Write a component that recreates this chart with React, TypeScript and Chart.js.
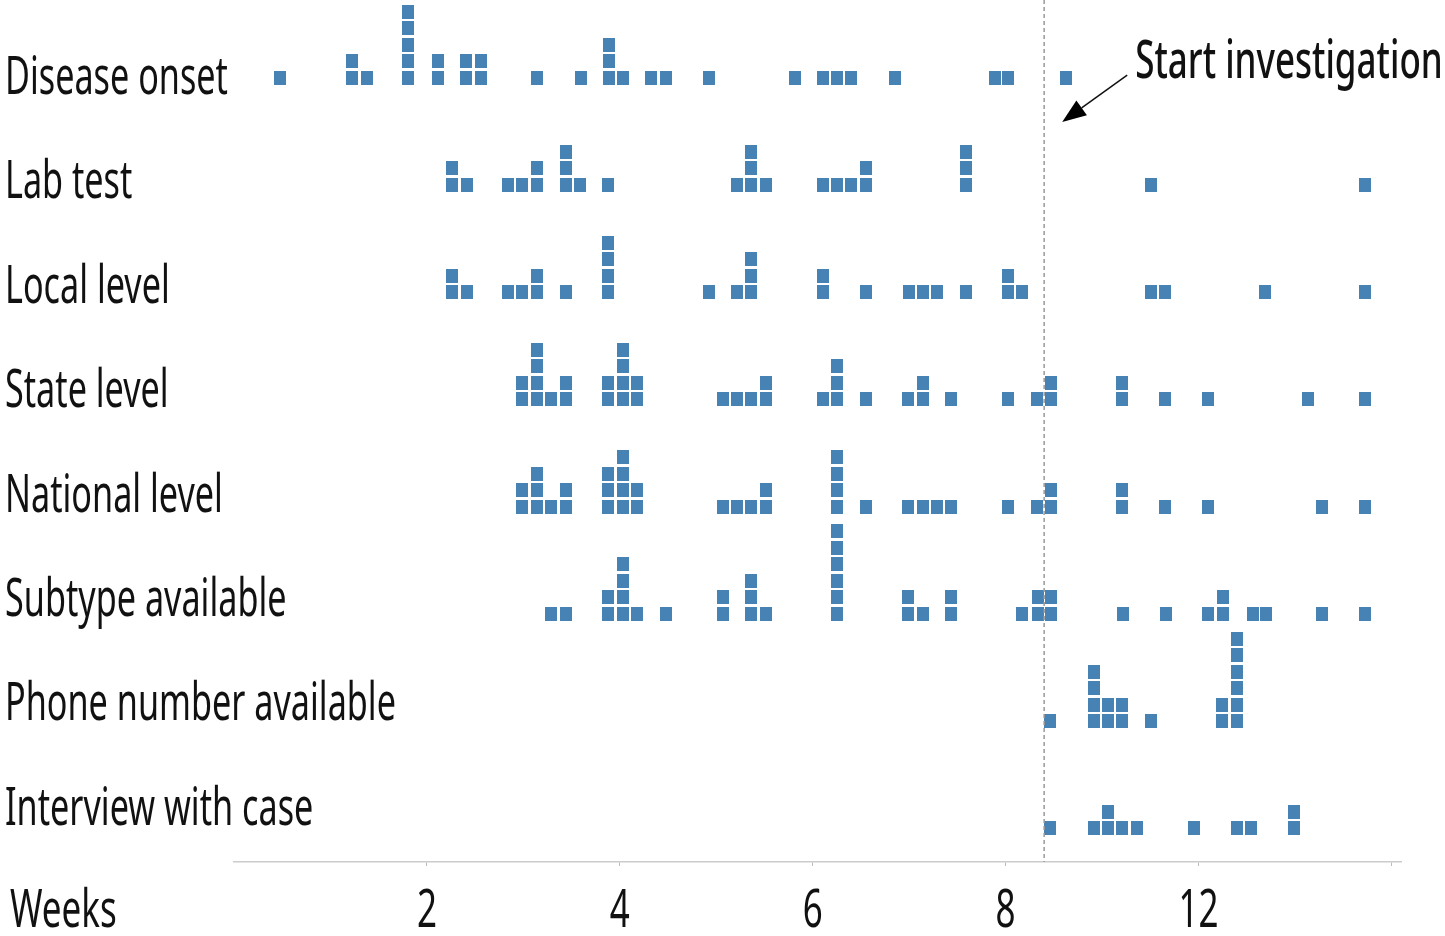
import React, { useEffect, useRef } from "react";
import { Chart, registerables } from "chart.js";

Chart.register(...registerables);

// ---------- data ----------
const rowNames = [
  "Disease onset",
  "Lab test",
  "Local level",
  "State level",
  "National level",
  "Subtype available",
  "Phone number available",
  "Interview with case",
];

// column positions (weeks) and number of cases stacked in each column
const diseaseOnsetWeeks = [0.482, 1.221, 1.374, 1.808, 2.112, 2.409, 2.558, 3.143, 3.595, 3.885, 4.036, 4.326, 4.482, 4.923, 5.812, 6.102, 6.249, 6.4, 6.854, 7.89, 8.021, 8.623];
const diseaseOnsetCounts = [1, 2, 1, 5, 2, 2, 2, 1, 1, 3, 1, 1, 1, 1, 1, 1, 1, 1, 1, 1, 1, 1];

const labTestWeeks = [2.256, 2.411, 2.845, 2.99, 3.146, 3.441, 3.592, 3.882, 5.22, 5.358, 5.511, 6.102, 6.25, 6.396, 6.553, 7.586, 9.51, 11.73];
const labTestCounts = [2, 1, 1, 1, 2, 3, 1, 1, 1, 3, 1, 1, 1, 1, 2, 3, 1, 1];

const localLevelWeeks = [2.256, 2.411, 2.845, 2.99, 3.146, 3.444, 3.882, 4.927, 5.22, 5.358, 6.102, 6.553, 7.0, 7.145, 7.29, 7.591, 8.026, 8.172, 9.51, 9.655, 10.692, 11.73];
const localLevelCounts = [2, 1, 1, 1, 2, 1, 4, 1, 1, 3, 2, 1, 1, 1, 1, 1, 2, 1, 1, 1, 1, 1];

const stateLevelWeeks = [2.99, 3.146, 3.288, 3.444, 3.882, 4.033, 4.183, 5.065, 5.213, 5.358, 5.516, 6.107, 6.255, 6.551, 6.992, 7.145, 7.437, 8.021, 8.329, 8.475, 9.209, 9.655, 10.101, 11.139, 11.73];
const stateLevelCounts = [2, 4, 1, 2, 2, 4, 2, 1, 1, 1, 2, 1, 3, 1, 1, 2, 1, 1, 1, 2, 2, 1, 1, 1, 1];

const nationalLevelWeeks = [2.99, 3.146, 3.288, 3.444, 3.882, 4.033, 4.183, 5.065, 5.213, 5.358, 5.516, 6.255, 6.551, 6.992, 7.145, 7.292, 7.437, 8.021, 8.329, 8.475, 9.209, 9.655, 10.101, 11.284, 11.73];
const nationalLevelCounts = [2, 3, 1, 2, 3, 4, 2, 1, 1, 1, 2, 4, 1, 1, 1, 1, 1, 1, 1, 2, 2, 1, 1, 1, 1];

const subtypeWeeks = [3.284, 3.441, 3.882, 4.033, 4.183, 4.479, 5.07, 5.358, 5.516, 6.255, 6.992, 7.145, 7.437, 8.174, 8.332, 8.475, 9.216, 9.66, 10.099, 10.254, 10.565, 10.703, 11.284, 11.73];
const subtypeCounts = [1, 1, 2, 4, 1, 1, 2, 3, 1, 6, 2, 1, 2, 1, 2, 2, 1, 1, 1, 2, 1, 1, 1, 1];

const phoneWeeks = [8.462, 8.919, 9.064, 9.209, 9.51, 10.246, 10.402];
const phoneCounts = [1, 4, 2, 2, 1, 2, 6];

const interviewWeeks = [8.462, 8.919, 9.064, 9.209, 9.365, 9.956, 10.402, 10.547, 10.993];
const interviewCounts = [1, 1, 2, 1, 1, 1, 1, 1, 2];

const rowWeeks = [diseaseOnsetWeeks, labTestWeeks, localLevelWeeks, stateLevelWeeks, nationalLevelWeeks, subtypeWeeks, phoneWeeks, interviewWeeks];
const rowCounts = [diseaseOnsetCounts, labTestCounts, localLevelCounts, stateLevelCounts, nationalLevelCounts, subtypeCounts, phoneCounts, interviewCounts];

const tickValues = [2, 4, 6, 8, 10, 12];
const tickLabels = ["2", "4", "6", "8", "12", ""];
const axisTitle = "Weeks";

const startInvestigationWeek = 8.4;
const annotationText = "Start investigation";

// ---------- layout / style ----------
const ROW_STEP = 6.5; // distance between rows, in stacked-square units
const LABEL_STEP = 6.327;
const LABEL_OFFSET = 0.55;
const SQUARE_COLOR = "#4682b4";
const TEXT_COLOR = "#111111";
const FONT_FAMILY = '"Noto Sans", "Open Sans", sans-serif';
const FONT_SIZE = 53;
const CONDENSE = 0.645;

function makeSquare(): HTMLCanvasElement {
  const c = document.createElement("canvas");
  c.width = 12;
  c.height = 14;
  const g = c.getContext("2d");
  if (g) {
    g.fillStyle = SQUARE_COLOR;
    g.fillRect(0, 0, 12, 14);
  }
  return c;
}

function condensedText(ctx: CanvasRenderingContext2D, text: string, x: number, y: number, sx = CONDENSE) {
  ctx.save();
  ctx.translate(x, y);
  ctx.scale(sx, 1);
  ctx.fillText(text, 0, 0);
  ctx.restore();
}

export default function App() {
  const ref = useRef<HTMLCanvasElement | null>(null);

  useEffect(() => {
    if (!ref.current) return;
    const square = makeSquare();

    const points: { x: number; y: number }[] = [];
    rowWeeks.forEach((weeks, r) => {
      weeks.forEach((w, j) => {
        for (let L = 0; L < rowCounts[r][j]; L++) {
          points.push({ x: w, y: r * ROW_STEP - 0.45 - L });
        }
      });
    });

    const overlay = {
      id: "overlay",
      afterDatasetsDraw(chart: any) {
        const { ctx, chartArea } = chart;
        const xs = chart.scales.x;
        const ys = chart.scales.y;
        ctx.save();
        // dashed line
        const lx = xs.getPixelForValue(startInvestigationWeek);
        ctx.strokeStyle = "#9a9a9a";
        ctx.lineWidth = 1.5;
        ctx.setLineDash([4, 3]);
        ctx.beginPath();
        ctx.moveTo(lx, chartArea.top);
        ctx.lineTo(lx, chartArea.bottom);
        ctx.stroke();
        ctx.setLineDash([]);

        // arrow
        const ax1 = xs.getPixelForValue(9.261);
        const ay1 = ys.getPixelForValue(-0.6);
        const ax2 = xs.getPixelForValue(8.587);
        const ay2 = ys.getPixelForValue(2.24);
        const ang = Math.atan2(ay2 - ay1, ax2 - ax1);
        const headLen = 24;
        const headW = 9;
        const bx = ax2 - headLen * Math.cos(ang);
        const by = ay2 - headLen * Math.sin(ang);
        ctx.strokeStyle = "#111";
        ctx.lineWidth = 1.5;
        ctx.beginPath();
        ctx.moveTo(ax1, ay1);
        ctx.lineTo(bx, by);
        ctx.stroke();
        ctx.fillStyle = "#000";
        ctx.beginPath();
        ctx.moveTo(ax2, ay2);
        ctx.lineTo(bx + headW * Math.sin(ang), by - headW * Math.cos(ang));
        ctx.lineTo(bx - headW * Math.sin(ang), by + headW * Math.cos(ang));
        ctx.closePath();
        ctx.fill();

        ctx.fillStyle = TEXT_COLOR;
        ctx.textBaseline = "alphabetic";

        // annotation text
        ctx.font = `500 ${FONT_SIZE}px ${FONT_FAMILY}`;
        ctx.textAlign = "left";
        condensedText(ctx, annotationText, xs.getPixelForValue(9.344), ys.getPixelForValue(-0.4), 0.66);

        // row labels (placed via the y scale)
        ctx.font = `${FONT_SIZE}px ${FONT_FAMILY}`;
        rowNames.forEach((name, i) => {
          condensedText(ctx, name, 5, ys.getPixelForValue(i * LABEL_STEP + LABEL_OFFSET));
        });

        // x tick labels (placed via the x scale)
        ctx.textAlign = "center";
        const tickBase = chartArea.bottom + 65;
        tickValues.forEach((v, i) => {
          const t = tickLabels[i];
          if (t) condensedText(ctx, t, xs.getPixelForValue(v), tickBase, 0.66);
        });

        // axis title
        ctx.textAlign = "left";
        condensedText(ctx, axisTitle, 10, tickBase, 0.66);
        ctx.restore();
      },
    };

    const chart = new Chart(ref.current, {
      type: "scatter",
      data: {
        datasets: [
          {
            data: points,
            pointStyle: square as any,
            pointRadius: 7,
            pointHoverRadius: 7,
            backgroundColor: SQUARE_COLOR,
            borderWidth: 0,
          },
        ],
      },
      options: {
        animation: false,
        responsive: true,
        maintainAspectRatio: false,
        events: [],
        layout: { autoPadding: false, padding: { left: 4, right: 44, top: 0, bottom: 0 } },
        plugins: { legend: { display: false }, tooltip: { enabled: false } },
        scales: {
          x: {
            type: "linear",
            min: 0,
            max: 12.1,
            afterFit: (s: any) => {
              s.height = 74;
            },
            afterBuildTicks: (s: any) => {
              s.ticks = tickValues.map((v) => ({ value: v }));
            },
            ticks: { display: false },
            grid: {
              display: true,
              drawOnChartArea: false,
              drawTicks: true,
              tickLength: 4,
              color: "#bbbbbb",
            },
            border: { display: true, color: "#cccccc", width: 1.5 },
          },
          y: {
            type: "linear",
            reverse: true,
            min: -5.15,
            max: 47.09,
            afterFit: (s: any) => {
              s.width = 230;
            },
            ticks: { display: false },
            grid: { display: false },
            border: { display: false },
          },
        },
      },
      plugins: [overlay],
    });

    return () => chart.destroy();
  }, []);

  return (
    <div style={{ position: "absolute", left: 0, top: 0, width: 1445, height: 936, background: "#fff" }}>
      <canvas ref={ref} />
    </div>
  );
}
